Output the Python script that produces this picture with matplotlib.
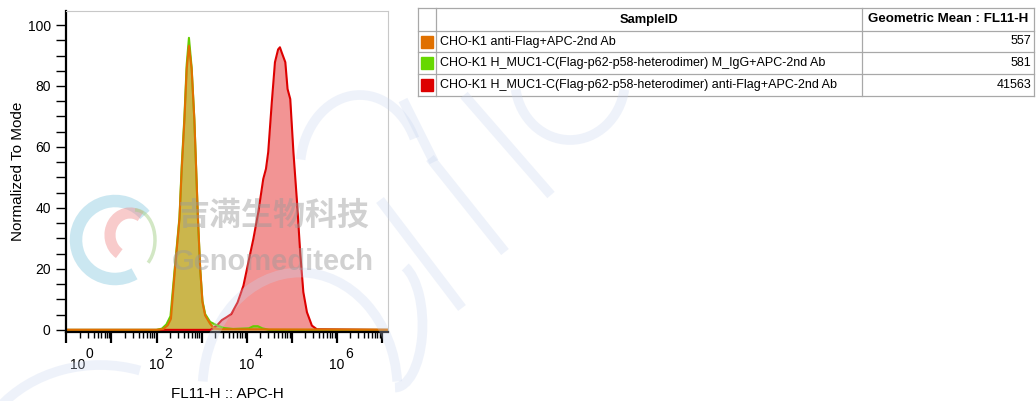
import numpy as np
import matplotlib.pyplot as plt
from matplotlib.patches import Arc, Rectangle

plt.rcParams['font.family'] = ['Liberation Sans', 'DejaVu Sans']

# ---------- data (log10 of FL11-H, normalized to mode) ----------
orange_logx = [0.0, 2.00, 2.15, 2.25, 2.32, 2.41, 2.51, 2.56, 2.62, 2.67, 2.72,
               2.78, 2.84, 2.88, 2.92, 2.97, 3.02, 3.08, 3.19, 3.27, 3.40, 7.2]
orange_y = [0, 0, 0.3, 1.5, 3.6, 20, 36.4, 52.8, 69, 85.6, 93.2,
            85.6, 69, 52.8, 36.4, 20, 9.1, 4.7, 2.0, 0.6, 0.2, 0]

green_logx = [0.0, 2.00, 2.12, 2.22, 2.31, 2.41, 2.51, 2.56, 2.62, 2.67, 2.72,
              2.78, 2.84, 2.88, 2.92, 2.97, 3.02, 3.08, 3.19, 3.34, 3.50,
              3.70, 4.05, 4.15, 4.25, 4.35, 4.5, 7.2]
green_y = [0, 0, 0.4, 1.8, 4.5, 21, 37, 54, 70, 87, 95.8,
           86, 69, 52.8, 36.4, 20, 9.5, 5.2, 2.6, 1.5, 0.6,
           0.3, 0.5, 1.2, 1.2, 0.5, 0, 0]

red_logx = [0.0, 3.20, 3.34, 3.45, 3.56, 3.66, 3.80, 3.93, 4.04, 4.15, 4.26,
            4.37, 4.43, 4.48, 4.56, 4.63, 4.70, 4.74, 4.78, 4.86, 4.91, 4.97,
            5.04, 5.12, 5.19, 5.26, 5.34, 5.45, 5.56, 7.2]
red_y = [0, 0, 1.4, 3.2, 4.2, 5.2, 9.0, 14.5, 22.2, 29.8, 38.6,
         49.5, 52.8, 58.3, 74.7, 87.8, 92.0, 92.7, 91.0, 87.8, 79.0, 75.7,
         58.3, 41.9, 25.5, 12.4, 5.8, 1.4, 0.2, 0]

sample_ids = ['CHO-K1 anti-Flag+APC-2nd Ab',
              'CHO-K1 H_MUC1-C(Flag-p62-p58-heterodimer) M_IgG+APC-2nd Ab',
              'CHO-K1 H_MUC1-C(Flag-p62-p58-heterodimer) anti-Flag+APC-2nd Ab']
geo_means = [557, 581, 41563]
swatch_colors = ['#e07000', '#66d800', '#dd0000']

W, H = 1036, 401
fig = plt.figure(figsize=(W / 100, H / 100), dpi=100)

# ---------- histogram ----------
ax = fig.add_axes([66 / W, 1 - 332 / H, 322 / W, 321 / H])
ax.set_xscale('log')

curves = [(red_logx, red_y, '#e00000', '#dd0000', 0.42),
          (green_logx, green_y, '#66cc00', '#66cc00', 0.45),
          (orange_logx, orange_y, '#e07a00', '#e07000', 0.45)]
for lx, yy, fc, lc, a in curves:
    xx = 10 ** np.asarray(lx)
    ax.fill_between(xx, yy, 0, color=fc, alpha=a, lw=0)
    ax.plot(xx, yy, color=lc, lw=1.5)

ax.set_xlim(10 ** -0.01, 10 ** 7.14)
ax.set_ylim(-0.7, 104.6)

ax.set_yticks(np.arange(0, 101, 20))
ax.set_yticks(np.arange(0, 101, 5), minor=True)
ax.tick_params(axis='y', which='both', direction='out', length=7, width=1,
               labelsize=10, pad=4)

decades = np.arange(0, 8)
ax.set_xticks(10.0 ** decades)
ax.set_xticks([m * 10.0 ** d for d in range(0, 8) for m in range(2, 10)
               if m * 10.0 ** d < 10 ** 7.14], minor=True)
ax.set_xticklabels([])
ax.set_xticklabels([], minor=True)
ax.tick_params(axis='x', which='major', direction='out', length=8, width=1.6)
ax.tick_params(axis='x', which='minor', direction='out', length=4, width=1)

for k in [0, 2, 4, 6]:
    shift = 11 if k == 0 else 0
    ax.annotate('10', (10.0 ** k, 0), xycoords=('data', 'axes fraction'),
                xytext=(shift, -33), textcoords='offset pixels',
                ha='center', va='center', fontsize=10)
    ax.annotate(str(k), (10.0 ** k, 0), xycoords=('data', 'axes fraction'),
                xytext=(shift + 12, -22), textcoords='offset pixels',
                ha='center', va='center', fontsize=10)

ax.set_xlabel('FL11-H :: APC-H', fontsize=11, labelpad=28)
ax.set_ylabel('Normalized To Mode', fontsize=11, labelpad=2)

for s in ['left', 'bottom']:
    ax.spines[s].set_linewidth(1.6)
for s in ['top', 'right']:
    ax.spines[s].set_color('#c8c8c8')

# ---------- table ----------
tab = fig.add_axes([0, 0, 1, 1], zorder=3)
tab.set_xlim(0, W)
tab.set_ylim(H, 0)
tab.axis('off')
tab.patch.set_alpha(0)

grid = '#a8a8a8'
x0, x1, x2, x3 = 418, 436, 862, 1034
rows_y = [8, 31, 52, 74, 96]
for y in rows_y:
    tab.plot([x0, x3], [y, y], color=grid, lw=0.9)
for x in [x0, x1, x2, x3]:
    tab.plot([x, x], [rows_y[0], rows_y[-1]], color=grid, lw=0.9)
tab.text((x1 + x2) / 2, (rows_y[0] + rows_y[1]) / 2, 'SampleID',
         ha='center', va='center', fontsize=9.3, fontweight='bold')
tab.text((x2 + x3) / 2, (rows_y[0] + rows_y[1]) / 2, 'Geometric Mean : FL11-H',
         ha='center', va='center', fontsize=9.6, fontweight='bold')
for i, (sid, gm, c) in enumerate(zip(sample_ids, geo_means, swatch_colors)):
    yc = (rows_y[i + 1] + rows_y[i + 2]) / 2
    tab.add_patch(Rectangle((421, yc - 6), 12, 12, color=c))
    tab.text(440, yc, sid, ha='left', va='center', fontsize=9)
    tab.text(x3 - 3, yc, str(gm), ha='right', va='center', fontsize=9)

# ---------- watermark ----------
wm = fig.add_axes([0, 0, 1, 1], zorder=5)
wm.set_xlim(0, W)
wm.set_ylim(H, 0)
wm.axis('off')
wm.patch.set_alpha(0)
blue = '#c9d6f0'
arcs = [((300, 390), 195, 235, 185, 355),
        ((100, 480), 260, 230, 215, 290),
        ((570, 80), 110, 120, 10, 170),
        ((395, 325), 55, 125, 280, 450),
        ((360, 170), 120, 150, 190, 330)]
for (cx, cy), w, h, t1, t2 in arcs:
    wm.add_patch(Arc((cx, cy), w, h, theta1=t1, theta2=t2, color=blue,
                     lw=7, alpha=0.3))
for (xa, ya), (xb, yb) in [((430, 158), (505, 252)), ((464, 95), (551, 195)),
                           ((380, 200), (462, 308)), ((403, 100), (434, 162))]:
    wm.plot([xa, xb], [ya, yb], color=blue, lw=7, alpha=0.3,
            solid_capstyle='butt')
# logo
wm.add_patch(Arc((115, 240), 78, 78, theta1=60, theta2=320, color='#8ccbe0',
                 lw=9, alpha=0.45))
wm.add_patch(Arc((130, 235), 40, 44, theta1=120, theta2=300, color='#f08c8c',
                 lw=8, alpha=0.45))
wm.add_patch(Arc((135, 240), 40, 60, theta1=270, theta2=420, color='#a6d08a',
                 lw=2.5, alpha=0.5))
wm.text(273, 216, '吉满生物科技', ha='center', va='center', fontsize=23,
        fontweight='bold', color='#9a9a9a', alpha=0.45,
        family=['Noto Sans CJK SC', 'DejaVu Sans'])
wm.text(273, 262, 'Genomeditech', ha='center', va='center', fontsize=21,
        fontweight='bold', color='#9a9a9a', alpha=0.45,
        family=['Liberation Sans', 'DejaVu Sans'])

fig.savefig('out.png', dpi=100)
